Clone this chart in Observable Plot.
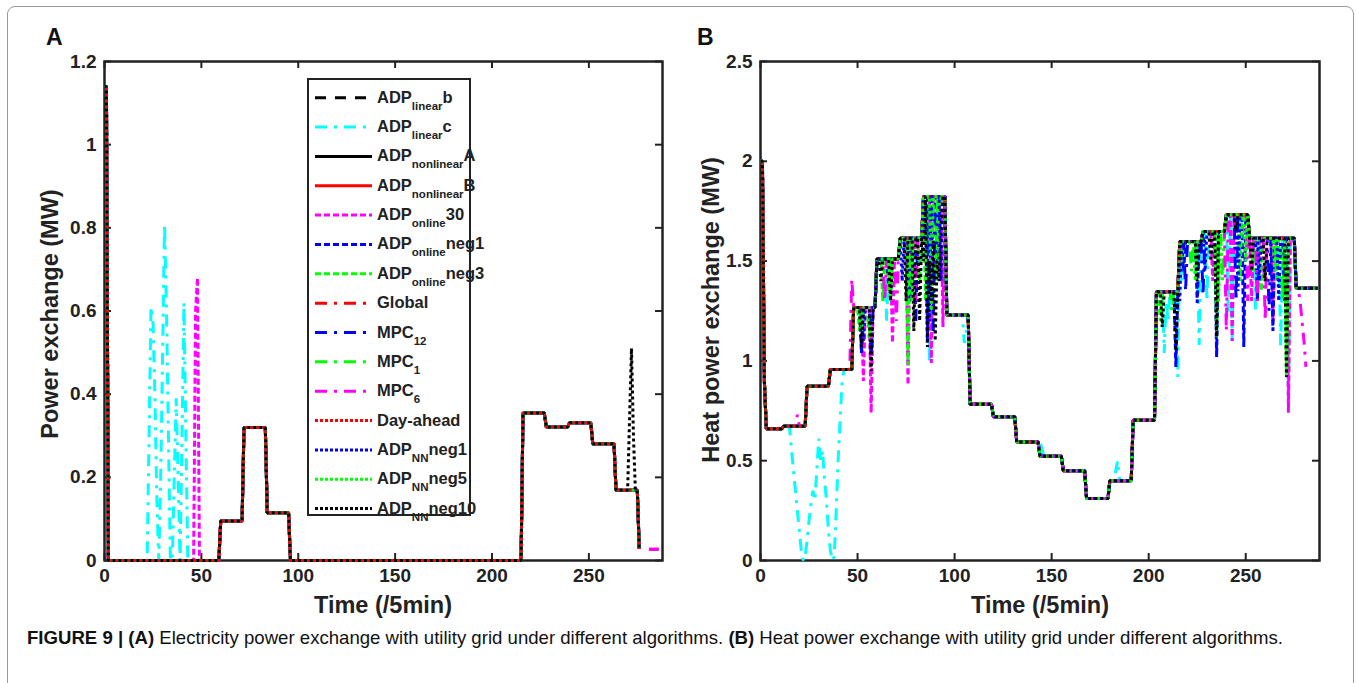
<!DOCTYPE html>
<html><head><meta charset="utf-8">
<script src="https://cdn.jsdelivr.net/npm/d3@7"></script>
<script src="https://cdn.jsdelivr.net/npm/@observablehq/plot@0.6"></script>
<style>
body{margin:0;background:#fff;}
#root{position:relative;width:1356px;height:683px;overflow:hidden;font-family:"Liberation Sans",Arial,Helvetica,sans-serif;background:#fff;}
.abs{position:absolute;white-space:nowrap;}
</style></head><body><div id="root"></div>
<script>
// ---------------- DATA ----------------
// hourly (12 samples of 5 min) base profiles
const hourlyA = [0,0,0,0,0,0.095,0.32,0.115,0,0,0,0,0,0,0,0,0,0,0.355,0.321,0.331,0.281,0.169,0.028];
const startA = [[0,1.14],[1,1.14]];
const lastA = 276;
const hourlyB = [0.66,0.673,0.873,0.957,1.268,1.51,1.615,1.824,1.23,0.783,0.72,0.594,0.522,0.45,0.31,0.40,0.703,1.347,1.598,1.648,1.732,1.615,1.615,1.364];
const startB = [[0,2.0],[1,2.0],[2,0.9]];
const lastB = 287;

// deviations of single series from the base profile: [time sample, value]
const linearC_A = [[22,0],[23,0.3],[24,0.61],[25,0.58],[26,0.4],[27,0.15],[28,0],[29,0.2],[30,0.5],[31,0.81],[32,0.6],[33,0.3],[34,0],[35,0],[36,0.2],[37,0.39],[38,0.2],[39,0],[40,0.3],[41,0.62],[42,0.3],[43,0]];
const linearC_B = [[15,0.66],[16,0.55],[17,0.45],[18,0.35],[19,0.25],[20,0.15],[21,0.05],[22,0],[23,0.02],[24,0.1],[25,0.2],[26,0.28],[27,0.35],[28,0.3],[29,0.45],[30,0.61],[31,0.5],[32,0.55],[33,0.4],[34,0.3],[35,0.15],[36,0.05],[37,0],[38,0.02],[39,0.25],[40,0.5],[41,0.7],[42,0.89],
  [65,1.2],[78,1.4],[87,0.99],[105,1.09],[106,1.15],[144,0.594],[145,0.56],[183,0.45],[184,0.5],[185,0.4],[208,1.04],[209,1.3],[210,1.2],[215,0.92],[217,1.4],[226,1.08],[230,1.3],[241,1.24],[243,1.1],[255,1.25],[268,1.07],[272,0.8]];
const online30_A = [[46,0],[47,0.6],[48,0.68],[49,0]];
const online30_B = [[53,0.9],[57,0.74],[68,1.09],[76,0.88],[88,0.99],[94,1.17],[233,1.4],[243,1.1],[253,1.3],[264,1.2],[272,0.74]];
const onlineNeg1_B = [[52,1.04],[66,1.36],[77,1.3],[86,1.1],[91,1.5],[214,0.97],[218,1.45],[225,1.29],[235,1.02],[249,1.07],[256,1.3],[264,1.15],[270,1.3]];
const onlineNeg3_B = [[51,1.15],[63,1.3],[76,0.98],[85,1.3],[90,1.4],[206,1.2],[217,1.5],[235,1.12],[247,1.4],[258,1.35],[266,1.4],[271,0.92]];
const mpc12_B = [[57,1.0],[80,1.2],[89,1.15],[219,1.35],[228,1.33],[245,1.3],[262,1.25]];
const mpc1_B = [[56,1.1],[66,1.35],[82,1.4],[92,1.5],[212,1.25],[222,1.45],[238,1.4],[254,1.45],[269,1.3]];
const mpc6_B = [[19,0.73],[47,1.41],[64,1.3],[70,1.2],[80,1.3],[240,1.15],[251,1.3],[256,1.3],[260,1.2],[277,1.36],[278,1.3],[279,1.2],[280,1.1],[281,0.97]];
const mpc6_lastB = 281;
const nnNeg1_B = [[53,1.1],[73,1.4],[87,1.2],[93,1.4],[216,1.3],[229,1.45],[246,1.35],[257,1.4],[267,1.3]];
const nnNeg5_B = [[52,1.15],[67,1.3],[78,1.3],[88,1.25],[207,1.17],[224,1.4],[236,1.3],[250,1.5],[265,1.45],[271,0.92]];
const nnNeg10_A = [[270,0.169],[271,0.34],[272,0.51],[273,0.3],[274,0.169]];
const nnNeg10_B = [[52,1.07],[57,0.95],[62,1.4],[67,1.3],[75,1.3],[79,1.15],[82,1.2],[84,1.5],[86,1.07],[87,1.5],[88,1.3],[89,1.6],[90,1.1],[91,1.5],[92,1.4],[93,1.7],[207,1.17],[214,1.05],[225,1.4],[232,1.5],[235,1.12],[245,1.65],[253,1.45],[260,1.4],[271,0.92]];
const tailA = [[281,0.027],[282,0.027],[283,0.027],[284,0.027],[285,0.027],[286,0.027]];

// legend labels: [main, subscript, suffix]
const labels = [["ADP","linear","b"],["ADP","linear","c"],["ADP","nonlinear","A"],["ADP","nonlinear","B"],["ADP","online","30"],["ADP","online","neg1"],["ADP","online","neg3"],["Global","",""],["MPC","12",""],["MPC","1",""],["MPC","6",""],["Day-ahead","",""],["ADP","NN","neg1"],["ADP","NN","neg5"],["ADP","NN","neg10"]];
const xTicks = [0,50,100,150,200,250];
const yTicksA = [0,0.2,0.4,0.6,0.8,1,1.2];
const yTicksB = [0,0.5,1,1.5,2,2.5];

// per-series deviations (index into labels)
const devA = {1: linearC_A, 4: online30_A, 14: nnNeg10_A};
const devB = {1: linearC_B, 4: online30_B, 5: onlineNeg1_B, 6: onlineNeg3_B, 8: mpc12_B, 9: mpc1_B, 10: mpc6_B, 12: nnNeg1_B, 13: nnNeg5_B, 14: nnNeg10_B};
const tailsA = {7: tailA, 10: tailA};
const lastsB = {10: mpc6_lastB};

// ---------------- STYLES ----------------
const colors = ["#000000","#00ffff","#000000","#ff0000","#ff00ff","#0000ff","#00ff00","#ff0000","#0000ff","#00ff00","#ff00ff","#ff0000","#0000ff","#00ff00","#000000"];
const DASH = "11,9", DENSE = "6,3", DASHDOT = "12,7,3,7", DOT = "3,3";
const dashes = [DASH, DASHDOT, null, null, DENSE, DENSE, DENSE, DASHDOT, DASHDOT, DASHDOT, DASHDOT, DOT, DOT, DOT, DOT];
const dashOffsets = [0,0,0,0,0,0,0,0,0,0,0,3,0,0,0];
const FONT = "'Liberation Sans', Arial, Helvetica, sans-serif";

function expand(hourly, start, last, over, tail) {
  const v = [];
  for (let t = 0; t <= last; t++) v.push(hourly[Math.floor(t / 12)]);
  start.forEach(([t, y]) => v[t] = y);
  (over || []).forEach(([t, y]) => { if (t <= last) v[t] = y; });
  (tail || []).forEach(([t, y]) => { while (v.length < t) v.push(NaN); v[t] = y; });
  return v.map((y, t) => ({t, y}));
}

const root = document.getElementById("root");

function panel(opts) {
  const {left, width, height, ml, mr, mt, mb, yDomain, yTicks, hourly, start, last, dev, tails, lasts} = opts;
  const H = height - mt - mb, W = width - ml - mr;
  const marks = [
    Plot.frame({stroke: "#222", strokeWidth: 2.5}),
    Plot.ruleX(xTicks, {insetTop: H - 7, stroke: "#222", strokeWidth: 2}),
    Plot.ruleX(xTicks, {insetBottom: H - 7, stroke: "#222", strokeWidth: 2}),
    Plot.ruleY(yTicks, {insetRight: W - 7, stroke: "#222", strokeWidth: 2}),
    Plot.ruleY(yTicks, {insetLeft: W - 7, stroke: "#222", strokeWidth: 2}),
    Plot.axisX(xTicks, {tickSize: 0, tickPadding: 8, label: null, fill: "#222"}),
    Plot.axisY(yTicks, {tickSize: 0, tickPadding: 8, label: null, tickFormat: d => String(d), fill: "#222"})
  ];
  labels.forEach((lab, i) => {
    const data = expand(hourly, start, (lasts && lasts[i]) || last, dev[i], tails && tails[i]);
    marks.push(Plot.line(data, {x: "t", y: "y", stroke: colors[i], strokeWidth: 3,
      strokeDasharray: dashes[i] || undefined, strokeDashoffset: dashOffsets[i] || undefined,
      strokeLinejoin: "miter", strokeLinecap: "butt"}));
  });
  const svg = Plot.plot({
    width, height, marginLeft: ml, marginRight: mr, marginTop: mt, marginBottom: mb,
    x: {domain: [0, 288]}, y: {domain: yDomain},
    style: {fontFamily: FONT, fontSize: "19px", fontWeight: "bold", background: "transparent", overflow: "visible"},
    marks
  });
  svg.style.position = "absolute"; svg.style.left = left + "px"; svg.style.top = "0px";
  root.appendChild(svg);
}

panel({left: 0, width: 690, height: 620, ml: 104, mr: 28, mt: 61, mb: 60, yDomain: [0, 1.2], yTicks: yTicksA,
  hourly: hourlyA, start: startA, last: lastA, dev: devA, tails: tailsA});
panel({left: 680, width: 660, height: 620, ml: 80, mr: 21, mt: 61, mb: 60, yDomain: [0, 2.5], yTicks: yTicksB,
  hourly: hourlyB, start: startB, last: lastB, dev: devB, lasts: lastsB});

// ---------------- LEGEND ----------------
(function legend() {
  const svg = d3.create("svg").attr("width", 190).attr("height", 460)
    .style("position", "absolute").style("left", "300px").style("top", "70px").style("overflow", "visible");
  svg.append("rect").attr("x", 8).attr("y", 9).attr("width", 162).attr("height", 436)
    .attr("fill", "#fff").attr("stroke", "#222").attr("stroke-width", 2);
  labels.forEach((lab, i) => {
    const y = 27.7 + i * 29.35;
    svg.append("line").attr("x1", 15).attr("x2", 72).attr("y1", y).attr("y2", y)
      .attr("stroke", colors[i]).attr("stroke-width", 3).attr("stroke-dasharray", i >= 11 ? "3,2" : (dashes[i] || null));
    const t = svg.append("text").attr("x", 77).attr("y", y + 5).attr("font-family", FONT)
      .attr("font-weight", "bold").attr("font-size", 16.5).attr("fill", "#222");
    t.append("tspan").text(lab[0]);
    if (lab[1]) t.append("tspan").attr("font-size", 11.5).attr("dy", 7).text(lab[1]);
    if (lab[2]) t.append("tspan").attr("dy", lab[1] ? -7 : 0).text(lab[2]);
  });
  root.appendChild(svg.node());
})();

// ---------------- TEXT ----------------
function addText(html, css) {
  const d = document.createElement("div");
  d.className = "abs"; d.innerHTML = html; Object.assign(d.style, css); root.appendChild(d);
  return d;
}
addText("A", {left: "46px", top: "24px", fontSize: "23px", fontWeight: "bold", color: "#111"});
addText("B", {left: "697px", top: "24px", fontSize: "23px", fontWeight: "bold", color: "#111"});
addText("Time (/5min)", {left: "383px", top: "592px", fontSize: "23.5px", fontWeight: "bold", color: "#222", transform: "translateX(-50%)"});
addText("Time (/5min)", {left: "1040px", top: "592px", fontSize: "23.5px", fontWeight: "bold", color: "#222", transform: "translateX(-50%)"});
addText("Power exchange (MW)", {left: "50px", top: "314px", fontSize: "23.5px", fontWeight: "bold", color: "#222", transform: "translate(-50%,-50%) rotate(-90deg)"});
addText("Heat power exchange (MW)", {left: "711px", top: "310px", fontSize: "23.5px", fontWeight: "bold", color: "#222", transform: "translate(-50%,-50%) rotate(-90deg)"});
addText("<b>FIGURE 9 | (A)</b> Electricity power exchange with utility grid under different algorithms. <b>(B)</b> Heat power exchange with utility grid under different algorithms.",
  {left: "27px", top: "627px", fontSize: "18.6px", color: "#111"});
// outer frame
const fr = document.createElement("div");
Object.assign(fr.style, {position: "absolute", left: "7px", top: "6px", width: "1345px", height: "720px", border: "1.5px solid #999", borderRadius: "8px", pointerEvents: "none"});
root.appendChild(fr);
</script></body></html>
